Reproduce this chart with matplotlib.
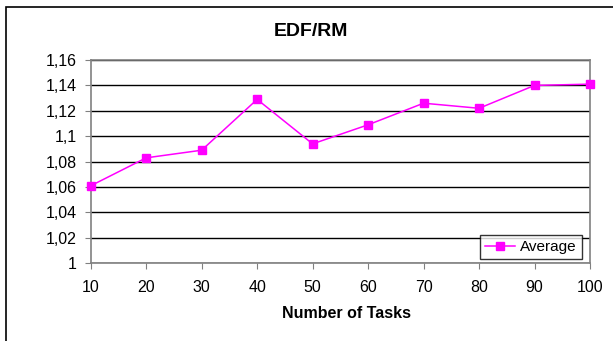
import matplotlib
matplotlib.use("Agg")
import matplotlib.pyplot as plt
from matplotlib.patches import Rectangle
from matplotlib.ticker import FuncFormatter

# Data
tasks = [10, 20, 30, 40, 50, 60, 70, 80, 90, 100]
average = [1.061, 1.083, 1.089, 1.129, 1.094, 1.109, 1.126, 1.122, 1.140, 1.141]
y_ticks = [1.0, 1.02, 1.04, 1.06, 1.08, 1.1, 1.12, 1.14, 1.16]

plt.rcParams['font.family'] = ['Liberation Sans', 'DejaVu Sans']

fig = plt.figure(figsize=(6.13, 3.41), dpi=100)
W, H = 613, 341
ax = fig.add_axes([90.7 / W, 1 - 263.3 / H, (590 - 90.7) / W, (263.3 - 60) / H])

# outer chart frame
fig.patches.append(Rectangle((6 / W, -0.01), 1.0, 1 - 7 / H + 0.01,
                             transform=fig.transFigure, fill=False,
                             edgecolor='black', lw=1.2))

ax.plot(tasks, average, color='#FF00FF', lw=1.1, marker='s', ms=6,
        markeredgecolor='#FF00FF', label='Average', clip_on=False, zorder=3)

ax.set_xlim(10, 100)
ax.set_ylim(1.0, 1.16)
ax.set_xticks(tasks)
ax.set_yticks(y_ticks)


def comma_fmt(v, pos):
    s = ('%.2f' % v).rstrip('0').rstrip('.')
    return s.replace('.', ',')


ax.yaxis.set_major_formatter(FuncFormatter(comma_fmt))
ax.yaxis.grid(True, color='black', lw=1.0)
ax.set_axisbelow(True)

for s in ax.spines.values():
    s.set_color('#808080')
    s.set_linewidth(1.2)

ax.tick_params(axis='both', direction='out', length=4, color='#808080',
               labelsize=11.5, colors='black')
ax.tick_params(axis='y', pad=6)
ax.tick_params(axis='x', pad=8)

fig.text(311 / W, 1 - 32 / H, 'EDF/RM', fontsize=14, fontweight='bold',
         ha='center', va='center')
ax.set_xlabel('Number of Tasks', fontsize=11.5, fontweight='bold')
ax.xaxis.set_label_coords((346 - 90.7) / (590 - 90.7), -(313 - 263.3) / (263.3 - 60))
ax.xaxis.label.set_va('center')

leg = ax.legend(loc='lower right', bbox_to_anchor=(0.984, 0.02), fontsize=11,
                frameon=True, fancybox=False, handlelength=2.0,
                borderpad=0.35, handletextpad=0.3, borderaxespad=0)
leg.get_frame().set_edgecolor('black')
leg.get_frame().set_linewidth(1.0)

fig.savefig('out.png', dpi=100)
